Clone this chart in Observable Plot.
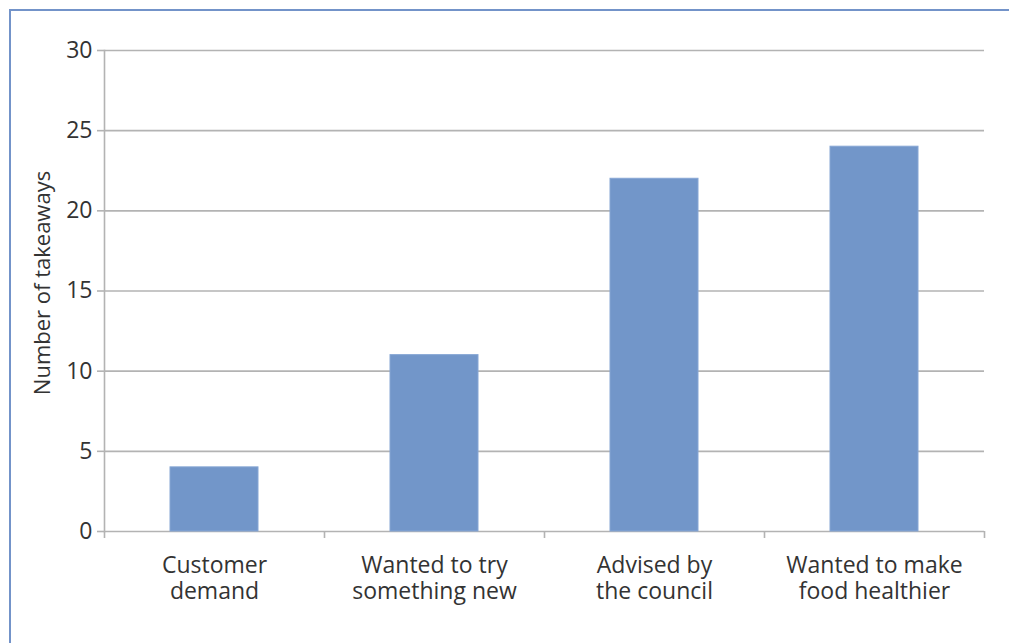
<!DOCTYPE html>
<html>
<head>
<meta charset="utf-8">
<script src="https://cdn.jsdelivr.net/npm/d3@7"></script>
<script src="https://cdn.jsdelivr.net/npm/@observablehq/plot@0.6"></script>
<style>
  html, body { margin: 0; padding: 0; background: #fff; overflow: hidden; }
  #frame {
    position: absolute; left: 9px; top: 9px; width: 1200px; height: 800px;
    border-top: 2px solid #7393c9; border-left: 2px solid #7393c9;
  }
  #chart { position: absolute; left: 0; top: 0; }
</style>
</head>
<body>
<div id="frame"></div>
<div id="chart"></div>
<script>
// Reasons takeaways gave for changing their food
const categories = [
  "Customer demand",
  "Wanted to try something new",
  "Advised by the council",
  "Wanted to make food healthier"
];
const tickLabels = [
  "Customer\ndemand",
  "Wanted to try\nsomething new",
  "Advised by\nthe council",
  "Wanted to make\nfood healthier"
];
const counts = [4, 11, 22, 24];
const yTicks = [0, 5, 10, 15, 20, 25, 30];
const yTitle = "Number of takeaways";

const data = categories.map((c, i) => ({category: c, count: counts[i]}));

const width = 1009, height = 643;
const marginLeft = 104, marginRight = 25, marginTop = 50, marginBottom = 112;
const halfStep = (width - marginLeft - marginRight) / categories.length / 2;

const grey = "#b3b3b3";
const textColor = "#333333";
const font = "'Open Sans', sans-serif";
const fontSize = 23;

const chart = Plot.plot({
  width, height, marginLeft, marginRight, marginTop, marginBottom,
  style: {fontFamily: font, fontSize: fontSize + "px", color: textColor, background: "transparent"},
  x: {domain: categories, paddingInner: 0.6, paddingOuter: 0.3, axis: null},
  y: {domain: [0, 30], axis: null},
  marks: [
    Plot.gridY(yTicks, {stroke: grey, strokeOpacity: 1, strokeWidth: 1.6}),
    Plot.frame({anchor: "left", stroke: grey, strokeWidth: 1.6}),
    Plot.barY(data, {x: "category", y: "count", fill: "#7296c9", stroke: "#86a6d4", strokeWidth: 1}),
    // category boundary ticks below the baseline
    Plot.ruleX(categories, {dx: -halfStep, y1: 0, y2: 0, insetBottom: -7, stroke: grey, strokeWidth: 1.6}),
    Plot.ruleX(categories.slice(-1), {dx: halfStep, y1: 0, y2: 0, insetBottom: -7, stroke: grey, strokeWidth: 1.6}),
    Plot.axisY(yTicks, {
      tickSize: 7, tickPadding: 5, stroke: grey, strokeWidth: 1.6,
      fill: textColor, fontSize, label: null
    }),
    Plot.text([yTitle], {
      frameAnchor: "left", textAnchor: "middle", lineAnchor: "middle",
      rotate: -90, dx: -62, dy: -8,
      fill: textColor, fontSize: 22
    }),
    Plot.axisX({
      tickSize: 0, tickPadding: 24, fill: textColor, fontSize, lineHeight: 1.1,
      tickFormat: (d) => tickLabels[categories.indexOf(d)], label: null
    })
  ]
});
document.getElementById("chart").appendChild(chart);
</script>
</body>
</html>
